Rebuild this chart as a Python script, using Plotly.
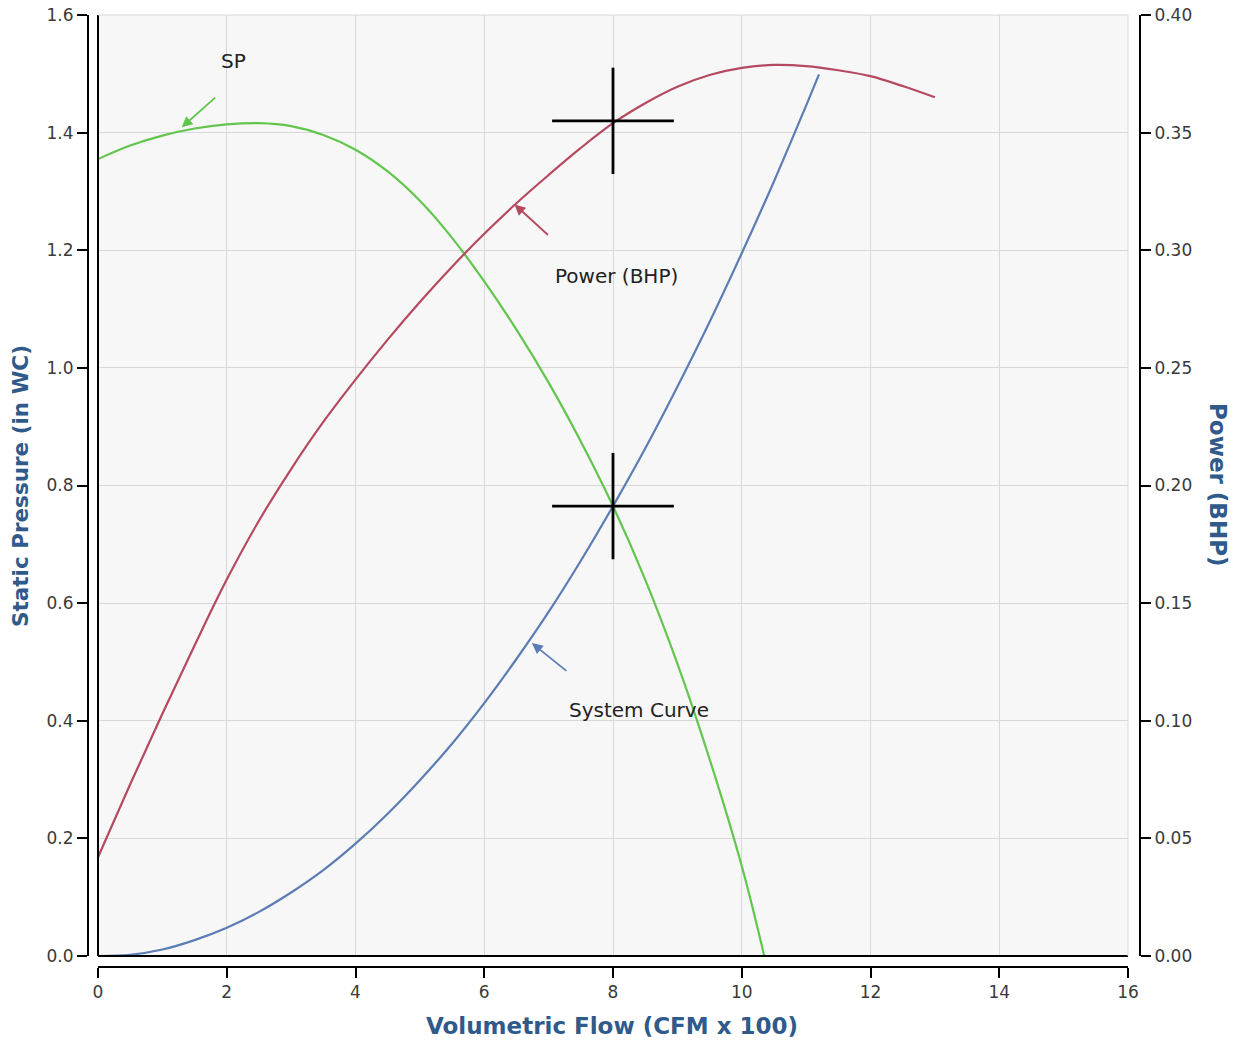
import plotly.graph_objects as go

# ---- data ----
sp_x = [0, 0.5, 1, 1.5, 2, 2.5, 3, 3.5, 4, 4.5, 5, 5.5, 6, 6.5, 7, 7.5, 8, 8.5, 9, 9.5, 10, 10.35]
sp_y = [1.355, 1.378, 1.395, 1.407, 1.414, 1.416, 1.411, 1.396, 1.371, 1.334, 1.284, 1.221, 1.147, 1.065, 0.975, 0.875, 0.765, 0.640, 0.497, 0.335, 0.153, 0.0]

pw_x = [0, 0.5, 1, 1.5, 2, 2.5, 3, 3.5, 4, 4.5, 5, 5.5, 6, 6.5, 7, 7.5, 8, 8.5, 9, 9.5, 10, 10.5, 11, 11.5, 12, 12.5, 13]
pw_y = [0.042, 0.073, 0.103, 0.132, 0.160, 0.185, 0.207, 0.227, 0.245, 0.262, 0.278, 0.293, 0.307, 0.320, 0.332, 0.3435, 0.354, 0.3625, 0.3695, 0.3745, 0.3775, 0.3788, 0.3783, 0.3765, 0.374, 0.3698, 0.365]

sc_x = [0, 0.5, 1, 1.5, 2, 2.5, 3, 3.5, 4, 4.5, 5, 5.5, 6, 6.5, 7, 7.5, 8, 8.5, 9, 9.5, 10, 10.5, 11, 11.2]
sc_y = [0.0, 0.002, 0.011, 0.027, 0.048, 0.075, 0.108, 0.146, 0.191, 0.242, 0.299, 0.361, 0.430, 0.505, 0.585, 0.672, 0.765, 0.863, 0.968, 1.078, 1.195, 1.317, 1.446, 1.499]

op_flow = 8.0
op_sp = 0.765
op_bhp = 0.355

x_ticks = [0, 2, 4, 6, 8, 10, 12, 14, 16]
y_ticks = [0.0, 0.2, 0.4, 0.6, 0.8, 1.0, 1.2, 1.4, 1.6]
y2_ticks = [0.00, 0.05, 0.10, 0.15, 0.20, 0.25, 0.30, 0.35, 0.40]

GREEN = "#62c64e"
RED = "#b5495f"
BLUE = "#5b7db3"
TITLE = "#2f5a8a"
TICKF = dict(family="DejaVu Sans", size=17, color="#3a3a3a")

fig = go.Figure()
fig.add_trace(go.Scatter(x=sp_x, y=sp_y, mode="lines", line=dict(color=GREEN, width=2.2, shape="spline"), yaxis="y"))
fig.add_trace(go.Scatter(x=pw_x, y=pw_y, mode="lines", line=dict(color=RED, width=2.2, shape="spline"), yaxis="y2"))
fig.add_trace(go.Scatter(x=sc_x, y=sc_y, mode="lines", line=dict(color=BLUE, width=2.2, shape="spline"), yaxis="y"))

# crosshair markers at operating point
for yy, ax in [(op_sp, "y"), (op_bhp, "y2")]:
    fig.add_trace(go.Scatter(x=[op_flow], y=[yy], mode="markers", yaxis=ax,
                             marker=dict(symbol="line-ew", size=87, line=dict(color="black", width=2.8))))
    fig.add_trace(go.Scatter(x=[op_flow], y=[yy], mode="markers", yaxis=ax,
                             marker=dict(symbol="line-ns", size=76, line=dict(color="black", width=2.8))))

W, H = 1241, 1043
xd = [98 / W, 1128 / W]
yd = [(H - 956) / H, (H - 15) / H]

common = dict(showline=True, linecolor="black", linewidth=2, ticks="outside", ticklen=10, tickwidth=2,
              tickcolor="black", tickfont=TICKF, zeroline=False, automargin=False)

fig.update_layout(
    width=W, height=H, margin=dict(l=0, r=0, t=0, b=0, autoexpand=False),
    paper_bgcolor="white", plot_bgcolor="#f7f7f7", showlegend=False,
    xaxis=dict(domain=xd, range=[0, 16], tickvals=x_ticks, ticktext=[str(v) for v in x_ticks],
               anchor="free", position=(H - 967) / H,
               showgrid=True, gridcolor="#d8d8d8", gridwidth=1, **common),
    yaxis=dict(domain=yd, range=[0, 1.6], tickvals=y_ticks, ticktext=[f"{v:.1f}" for v in y_ticks],
               anchor="free", position=88 / W,
               showgrid=True, gridcolor="#d8d8d8", gridwidth=1, **common),
    yaxis2=dict(domain=yd, range=[0, 0.4], tickvals=y2_ticks, ticktext=[f"{v:.2f}" for v in y2_ticks],
                overlaying="y", side="right", anchor="free", position=1140 / W,
                showgrid=False, **common),
)

# plot-area border
fig.add_shape(type="line", xref="x domain", yref="y domain", x0=0, x1=0, y0=0, y1=1, line=dict(color="black", width=2))
fig.add_shape(type="line", xref="x domain", yref="y domain", x0=0, x1=1, y0=0, y1=0, line=dict(color="black", width=2))
fig.add_shape(type="line", xref="x domain", yref="y domain", x0=0, x1=1, y0=1, y1=1, line=dict(color="#d8d8d8", width=1))
fig.add_shape(type="line", xref="x domain", yref="y domain", x0=1, x1=1, y0=0, y1=1, line=dict(color="#d8d8d8", width=1))

LBL = dict(family="DejaVu Sans", size=20, color="#222222")
# curve labels
fig.add_annotation(x=2.1, y=1.522, xref="x", yref="y", text="SP", showarrow=False, font=LBL)
fig.add_annotation(x=8.06, y=1.156, xref="x", yref="y", text="Power (BHP)", showarrow=False, font=LBL)
fig.add_annotation(x=8.4, y=0.418, xref="x", yref="y", text="System Curve", showarrow=False, font=LBL)

# arrows
fig.add_annotation(x=1.3, y=1.409, xref="x", yref="y", text="", showarrow=True, ax=35, ay=-31,
                   arrowhead=2, arrowsize=1.2, arrowwidth=1.8, arrowcolor=GREEN)
fig.add_annotation(x=6.47, y=0.3195, xref="x", yref="y2", text="", showarrow=True, ax=35, ay=32,
                   arrowhead=2, arrowsize=1.2, arrowwidth=1.8, arrowcolor=RED)
fig.add_annotation(x=6.74, y=0.532, xref="x", yref="y", text="", showarrow=True, ax=36, ay=29,
                   arrowhead=2, arrowsize=1.2, arrowwidth=1.8, arrowcolor=BLUE)

TF = dict(family="DejaVu Sans", size=23, color=TITLE)
fig.add_annotation(x=612 / W, y=(H - 1026) / H, xref="paper", yref="paper", text="<b>Volumetric Flow (CFM x 100)</b>",
                   showarrow=False, font=TF, xanchor="center", yanchor="middle")
fig.add_annotation(x=20 / W, y=(H - 486) / H, xref="paper", yref="paper", text="<b>Static Pressure (in WC)</b>",
                   showarrow=False, font=dict(family="DejaVu Sans", size=21.5, color=TITLE), textangle=-90,
                   xanchor="center", yanchor="middle")
fig.add_annotation(x=1218 / W, y=(H - 485) / H, xref="paper", yref="paper", text="<b>Power (BHP)</b>",
                   showarrow=False, font=TF, textangle=90, xanchor="center", yanchor="middle")

fig.write_html("out.html")
